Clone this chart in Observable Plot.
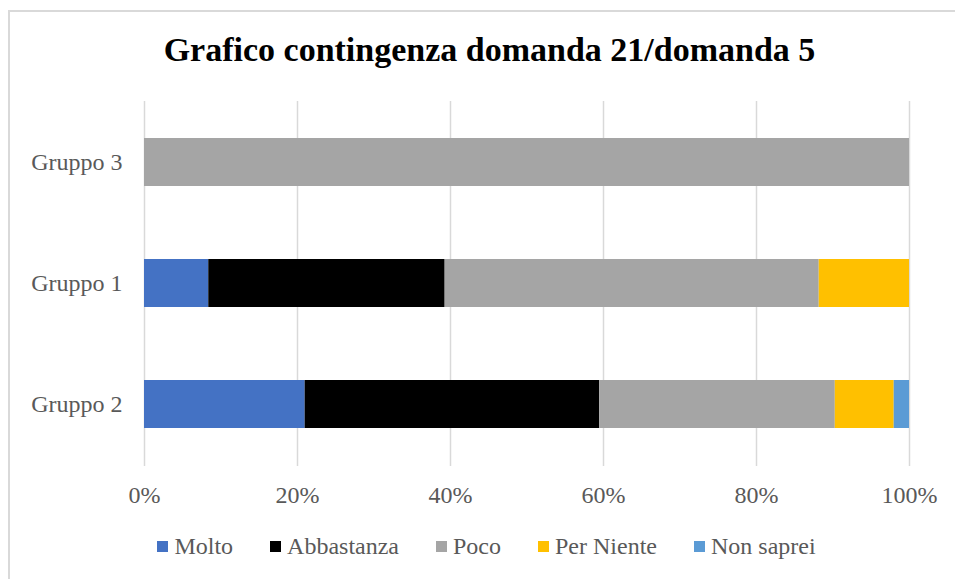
<!DOCTYPE html>
<html>
<head>
<meta charset="utf-8">
<script src="https://cdn.jsdelivr.net/npm/d3@7"></script>
<script src="https://cdn.jsdelivr.net/npm/@observablehq/plot@0.6"></script>
<style>
  html, body { margin: 0; padding: 0; background: #fff; }
  body { width: 955px; height: 579px; overflow: hidden; position: relative; font-family: "Liberation Serif", serif; }
  #frame { position: absolute; left: 8px; top: 10px; width: 960px; height: 580px; border-left: 2px solid #d9d9d9; border-top: 2px solid #d9d9d9; box-sizing: border-box; }
  #title { position: absolute; left: 12px; width: 955px; top: 31px; text-align: center; font-family: "Liberation Serif", serif; font-weight: bold; font-size: 34px; color: #000; }
  #chart { position: absolute; left: 0; top: 90px; }
  #legend { position: absolute; left: 9px; width: 955px; top: 533px; display: flex; justify-content: center; gap: 37px; font-size: 24px; color: #595959; }
  #legend .item { display: flex; align-items: center; }
  #legend .sw { width: 11px; height: 11px; margin-right: 6px; display: inline-block; }
</style>
</head>
<body>
<div id="frame"></div>
<div id="title">Grafico contingenza domanda 21/domanda 5</div>
<div id="chart"></div>
<div id="legend"></div>
<script>
const groups = ["Gruppo 3", "Gruppo 1", "Gruppo 2"];
const categories = ["Molto", "Abbastanza", "Poco", "Per Niente", "Non saprei"];
const colors = ["#4472C4", "#000000", "#A5A5A5", "#FFC000", "#5B9BD5"];
const molto = [0, 8.4, 21.0];
const abbastanza = [0, 30.9, 38.5];
const poco = [100, 48.9, 30.8];
const perNiente = [0, 11.8, 7.7];
const nonSaprei = [0, 0, 2.0];
const xTicks = [0, 20, 40, 60, 80, 100];

const series = [molto, abbastanza, poco, perNiente, nonSaprei];
const data = [];
groups.forEach((g, gi) => {
  categories.forEach((c, ci) => {
    const v = series[ci][gi];
    if (v > 0) data.push({group: g, category: c, value: v});
  });
});

const plot = Plot.plot({
  width: 955,
  height: 421,
  marginLeft: 144,
  marginRight: 46,
  marginTop: 11,
  marginBottom: 45,
  style: {fontFamily: "Liberation Serif, serif", fontSize: "24px", color: "#595959", background: "transparent"},
  x: {domain: [0, 100], ticks: xTicks, tickFormat: d => d + "%", label: null},
  y: {domain: groups, paddingInner: 0.6, paddingOuter: 0.3, label: null},
  color: {domain: categories, range: colors},
  marks: [
    Plot.gridX(xTicks, {stroke: "#d9d9d9", strokeOpacity: 1, strokeWidth: 1.5}),
    Plot.barX(data, Plot.stackX({y: "group", x: "value", fill: "category", order: null})),
    Plot.axisX({ticks: xTicks, tickFormat: d => d + "%", tickSize: 0, tickPadding: 19, label: null, fill: "#595959"}),
    Plot.axisY({tickSize: 0, tickPadding: 22, label: null, fill: "#595959"})
  ]
});
document.getElementById("chart").appendChild(plot);

const legend = document.getElementById("legend");
categories.forEach((c, i) => {
  const item = document.createElement("div");
  item.className = "item";
  const sw = document.createElement("span");
  sw.className = "sw";
  sw.style.background = colors[i];
  item.appendChild(sw);
  item.appendChild(document.createTextNode(c));
  legend.appendChild(item);
});
</script>
</body>
</html>
